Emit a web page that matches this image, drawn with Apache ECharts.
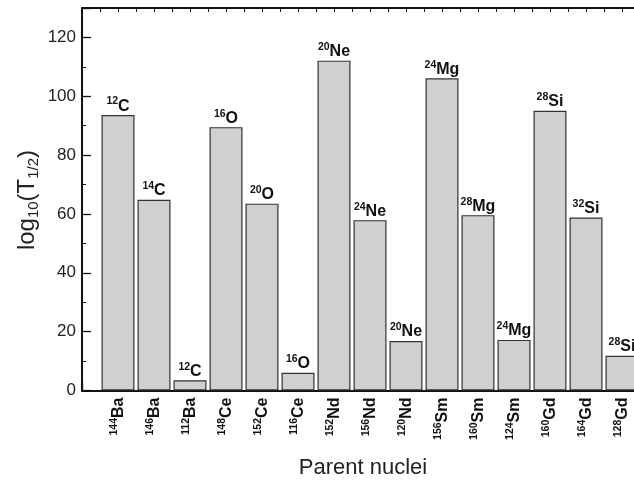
<!DOCTYPE html>
<html>
<head>
<meta charset="utf-8">
<script src="https://cdn.jsdelivr.net/npm/echarts@6/dist/echarts.min.js"></script>
<style>html,body{margin:0;padding:0;background:#fff;}#c{width:634px;height:481px;}</style>
</head>
<body>
<div id="c"></div>
<script>
const parentMass = ['144','146','112','148','152','116','152','156','120','156','160','124','160','164','128'];
const parentEl = ['Ba','Ba','Ba','Ce','Ce','Ce','Nd','Nd','Nd','Sm','Sm','Sm','Gd','Gd','Gd'];
const clusterMass = ['12','14','12','16','20','16','20','24','20','24','28','24','28','32','28'];
const clusterEl = ['C','C','C','O','O','O','Ne','Ne','Ne','Mg','Mg','Mg','Si','Si','Si'];
const logHalfLife = [93.6,64.8,3.5,89.5,63.5,6.0,112.1,57.9,16.8,106.1,59.6,17.2,95.1,58.8,11.8];
const yTicks = [0,20,40,60,80,100,120];

const FONT = 'Liberation Sans, Arial, Helvetica, sans-serif';
const chart = echarts.init(document.getElementById('c'), null, {renderer: 'canvas'});
const axisColor = '#111';

chart.setOption({
  animation: false,
  backgroundColor: '#fff',
  grid: {left: 82, top: 8, width: 576, bottom: 90.5, containLabel: false, outerBoundsMode: 'none'},
  xAxis: [{
    type: 'value', position: 'bottom', min: 0, max: 16, interval: 1,
    axisLine: {show: true, onZero: false, lineStyle: {color: axisColor, width: 2}},
    axisTick: {show: true, inside: true, length: 8, lineStyle: {color: axisColor, width: 1.3}},
    minorTick: {show: false},
    splitLine: {show: false},
    axisLabel: {
      rotate: 90, margin: 7, color: '#111', fontFamily: FONT,
      formatter: function (v) {
        const i = Math.round(v) - 1;
        if (Math.abs(v - Math.round(v)) > 1e-6 || i < 0 || i >= parentEl.length) return '';
        return '{m|' + parentMass[i] + '}{e|' + parentEl[i] + '}';
      },
      rich: {
        m: {fontSize: 10.5, fontWeight: 'bold', fontFamily: FONT, color: '#111', verticalAlign: 'top'},
        e: {fontSize: 16, fontWeight: 'bold', fontFamily: FONT, color: '#111', lineHeight: 18, verticalAlign: 'bottom'}
      }
    }
  }, {
    type: 'value', position: 'top', min: 0, max: 16, interval: 1,
    axisLine: {show: true, onZero: false, lineStyle: {color: axisColor, width: 2}},
    axisTick: {show: true, inside: true, length: 4, lineStyle: {color: axisColor, width: 1}},
    minorTick: {show: true, splitNumber: 2, length: 4, lineStyle: {color: axisColor, width: 1}},
    splitLine: {show: false},
    axisLabel: {show: false}
  }],
  yAxis: {
    type: 'value', min: 0, max: 130, interval: 20,
    axisLine: {show: true, onZero: false, lineStyle: {color: axisColor, width: 2}},
    axisTick: {show: true, inside: true, length: 9, lineStyle: {color: axisColor, width: 1.3}},
    minorTick: {show: true, splitNumber: 2, length: 4, lineStyle: {color: axisColor, width: 1}},
    splitLine: {show: false},
    axisLabel: {
      fontSize: 17, color: '#222', fontFamily: FONT, margin: 6,
      showMaxLabel: false,
      formatter: function (v) { return yTicks.indexOf(v) >= 0 ? String(v) : ''; }
    }
  },
  series: [{
    type: 'bar',
    xAxisIndex: 0,
    barWidth: 33,
    data: logHalfLife.map(function (v, i) { return [i + 1, v]; }),
    itemStyle: {color: '#d0d0d0', borderColor: '#333', borderWidth: 1.2},
    label: {
      show: true, position: 'top', distance: 1,
      formatter: function (p) {
        return '{s|' + clusterMass[p.dataIndex] + '}{e|' + clusterEl[p.dataIndex] + '}';
      },
      rich: {
        s: {fontSize: 10.5, fontWeight: 'bold', fontFamily: FONT, color: '#111', verticalAlign: 'top'},
        e: {fontSize: 16, fontWeight: 'bold', fontFamily: FONT, color: '#111', lineHeight: 18, verticalAlign: 'bottom'}
      }
    }
  }],
  graphic: [{
    type: 'text', x: 27, y: 200, rotation: Math.PI / 2,
    style: {
      text: '{a|log}{b|10}{a|(T}{b|1/2}{a|)}',
      align: 'center', verticalAlign: 'middle',
      rich: {
        a: {fontSize: 24, fontFamily: FONT, fill: '#222', lineHeight: 29, verticalAlign: 'middle'},
        b: {fontSize: 15, fontFamily: FONT, fill: '#222', verticalAlign: 'bottom'}
      }
    }
  }, {
    type: 'text', x: 363, y: 468,
    style: {
      text: 'Parent nuclei', align: 'center', verticalAlign: 'middle',
      fontSize: 22, fontFamily: FONT, fill: '#222'
    }
  }]
});
</script>
</body>
</html>
